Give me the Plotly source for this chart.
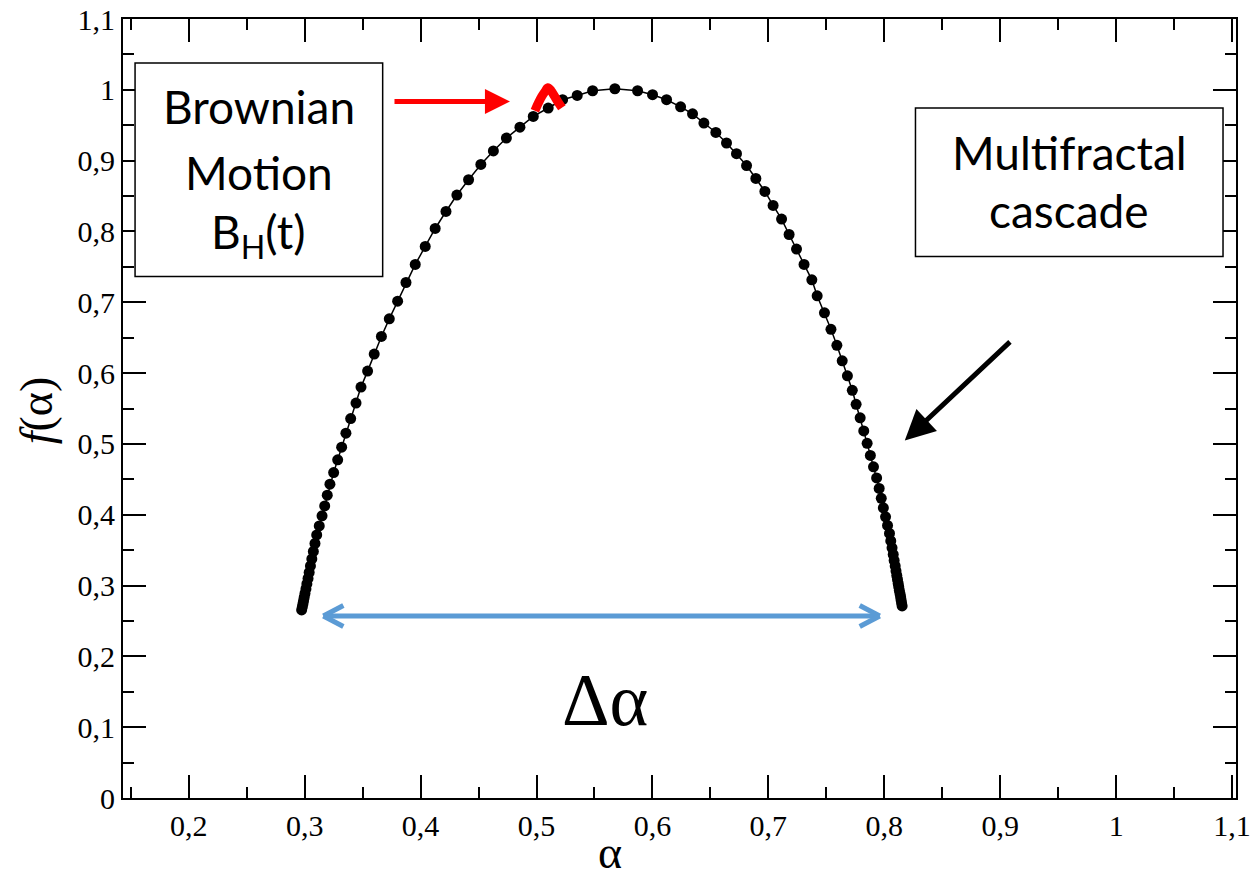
import plotly.graph_objects as go

# ---- data ----
alpha = [0.2974, 0.2980, 0.2985, 0.2990, 0.2996, 0.3003, 0.3011, 0.3019, 0.3029, 0.3039,
         0.3050, 0.3062, 0.3075, 0.3089, 0.3104, 0.3126, 0.3150, 0.3173, 0.3195, 0.3218,
         0.3250, 0.3285, 0.3319, 0.3356, 0.3397, 0.3443, 0.3486, 0.3543, 0.3600, 0.3662,
         0.3730, 0.3802, 0.3874, 0.3954, 0.4040, 0.4126, 0.4219, 0.4313, 0.4414, 0.4520,
         0.4628, 0.4740, 0.4857, 0.4972, 0.5101, 0.5225, 0.5351, 0.5484, 0.5676, 0.5872,
         0.6001, 0.6122, 0.6243, 0.6346, 0.6444, 0.6547, 0.6639, 0.6725, 0.6812, 0.6892,
         0.6970, 0.7041, 0.7114, 0.7179, 0.7243, 0.7308, 0.7375, 0.7421, 0.7484, 0.7540,
         0.7591, 0.7637, 0.7682, 0.7724, 0.7757, 0.7792, 0.7823, 0.7852, 0.7880, 0.7907,
         0.7934, 0.7956, 0.7974, 0.7992, 0.8011, 0.8028, 0.8045, 0.8056, 0.8067, 0.8077,
         0.8085, 0.8094, 0.8101, 0.8108, 0.8114, 0.8120, 0.8125, 0.8130, 0.8136, 0.8141,
         0.8145, 0.8149, 0.8154]
f_alpha = [0.2656, 0.2698, 0.2741, 0.2783, 0.2832, 0.2889, 0.2952, 0.3023, 0.3101, 0.3185,
           0.3277, 0.3376, 0.3482, 0.3595, 0.3715, 0.3842, 0.3984, 0.4125, 0.4276, 0.4431,
           0.4595, 0.4775, 0.4954, 0.5152, 0.5358, 0.5576, 0.5802, 0.6028, 0.6268, 0.6517,
           0.6766, 0.7016, 0.7279, 0.7534, 0.7788, 0.8042, 0.8282, 0.8514, 0.8730, 0.8946,
           0.9137, 0.9319, 0.9472, 0.9624, 0.9743, 0.9860, 0.9921, 0.9987, 1.0015, 0.9987,
           0.9931, 0.9860, 0.9760, 0.9661, 0.9531, 0.9398, 0.9249, 0.9098, 0.8931, 0.8748,
           0.8565, 0.8367, 0.8175, 0.7957, 0.7751, 0.7534, 0.7317, 0.7091, 0.6851, 0.6618,
           0.6392, 0.6173, 0.5961, 0.5757, 0.5559, 0.5368, 0.5184, 0.5008, 0.4838, 0.4676,
           0.4520, 0.4372, 0.4231, 0.4097, 0.3970, 0.3849, 0.3736, 0.3630, 0.3532, 0.3440,
           0.3355, 0.3277, 0.3207, 0.3143, 0.3087, 0.3030, 0.2981, 0.2931, 0.2882, 0.2839,
           0.2797, 0.2755, 0.2712]

# Brownian motion spectrum (red caret)
bm_alpha = [0.4986, 0.5015, 0.5045, 0.5075, 0.5098, 0.5125, 0.5155, 0.5185, 0.5219]
bm_f = [0.9705, 0.9810, 0.9905, 0.9980, 1.0030, 0.9990, 0.9910, 0.9830, 0.9747]

x_ticks = [0.2, 0.3, 0.4, 0.5, 0.6, 0.7, 0.8, 0.9, 1.0, 1.1]
x_ticktext = ["0,2", "0,3", "0,4", "0,5", "0,6", "0,7", "0,8", "0,9", "1", "1,1"]
x_minor = [0.15, 0.25, 0.35, 0.45, 0.55, 0.65, 0.75, 0.85, 0.95, 1.05]
y_ticks = [0, 0.1, 0.2, 0.3, 0.4, 0.5, 0.6, 0.7, 0.8, 0.9, 1.0, 1.1]
y_ticktext = ["0", "0,1", "0,2", "0,3", "0,4", "0,5", "0,6", "0,7", "0,8", "0,9", "1", "1,1"]
y_minor = [0.05, 0.15, 0.25, 0.35, 0.45, 0.55, 0.65, 0.75, 0.85, 0.95, 1.05]

SERIF = "'Liberation Serif', 'Times New Roman', Times, 'DejaVu Serif', serif"
SANS = "Lato, 'Open Sans', sans-serif"

fig = go.Figure()
fig.add_trace(go.Scatter(
    x=alpha, y=f_alpha, mode="lines+markers",
    line=dict(color="black", width=1.5),
    marker=dict(color="black", size=11),
    showlegend=False, hoverinfo="skip"))
fig.add_trace(go.Scatter(
    x=bm_alpha, y=bm_f, mode="lines",
    line=dict(color="#ff0000", width=9, shape="spline"),
    showlegend=False, hoverinfo="skip"))

axis_common = dict(
    showgrid=False, zeroline=False, showline=True, linecolor="black", linewidth=2,
    mirror="ticks", ticks="inside", ticklen=23, tickwidth=1.8, tickcolor="black",
    tickfont=dict(family=SERIF, size=30, color="black"),
    tickmode="array", automargin=False,
)
fig.update_xaxes(**axis_common, range=[0.1433, 1.1034], tickvals=x_ticks, ticktext=x_ticktext,
                 minor=dict(tickmode="array", tickvals=x_minor, ticks="inside", ticklen=11,
                            tickwidth=1.8, tickcolor="black"))
fig.update_yaxes(**axis_common, range=[0, 1.1], tickvals=y_ticks, ticktext=y_ticktext,
                 minor=dict(tickmode="array", tickvals=y_minor, ticks="inside", ticklen=11,
                            tickwidth=1.8, tickcolor="black"))

shapes = []
# text boxes
shapes.append(dict(type="rect", xref="x", yref="y", x0=0.1537, x1=0.3673, y0=0.7364, y1=1.0379,
                   line=dict(color="black", width=1.5), fillcolor="white", layer="above"))
shapes.append(dict(type="rect", xref="x", yref="y", x0=0.8269, x1=1.0922, y0=0.7647, y1=0.9743,
                   line=dict(color="black", width=1.5), fillcolor="white", layer="above"))
# blue double arrow
BLUE = "#5b9bd5"
ya = 0.2571
xl, xr = 0.3161, 0.7961
dxh, dyh = 0.0173, 0.0148
shapes.append(dict(type="line", xref="x", yref="y", x0=xl + 0.002, x1=xr - 0.002, y0=ya, y1=ya,
                   line=dict(color=BLUE, width=5)))
for x0, sgn in [(xl, 1), (xr, -1)]:
    shapes.append(dict(type="line", xref="x", yref="y", x0=x0, y0=ya, x1=x0 + sgn * dxh, y1=ya + dyh,
                       line=dict(color=BLUE, width=5)))
    shapes.append(dict(type="line", xref="x", yref="y", x0=x0, y0=ya, x1=x0 + sgn * dxh, y1=ya - dyh,
                       line=dict(color=BLUE, width=5)))
fig.update_layout(shapes=shapes)

annotations = [
    # box texts
    dict(x=0.2605, y=0.9758, text="Brownian", font=dict(family=SANS, size=46, color="black")),
    dict(x=0.2605, y=0.8839, text="Motion", font=dict(family=SANS, size=46, color="black")),
    dict(x=0.2605, y=0.7943, text="B<sub>H</sub>(t)", font=dict(family=SANS, size=46, color="black")),
    dict(x=0.9596, y=0.9121, text="Multifractal", font=dict(family=SANS, size=46, color="black")),
    dict(x=0.9596, y=0.8296, text="cascade", font=dict(family=SANS, size=46, color="black")),
    # delta alpha
    dict(x=0.5590, y=0.1384, text="Δα", font=dict(family=SERIF, size=74, color="black")),
    # axis titles
    dict(xref="paper", yref="paper", x=0.4376, y=-0.0700, text="α",
         font=dict(family=SERIF, size=46, color="black")),
    dict(xref="paper", yref="paper", x=-0.0780, y=0.498, text="<i>f</i>(α)", textangle=-90,
         font=dict(family=SERIF, size=46, color="black")),
    # arrows
    dict(x=0.4771, y=0.9836, ax=0.3762, ay=0.9836, axref="x", ayref="y", text="",
         showarrow=True, arrowhead=2, arrowsize=1, arrowwidth=5, arrowcolor="#ff0000", standoff=0),
    dict(x=0.8177, y=0.5047, ax=0.9097, ay=0.6460, axref="x", ayref="y", text="",
         showarrow=True, arrowhead=2, arrowsize=1.2, arrowwidth=5, arrowcolor="black", standoff=0),
]
for a in annotations:
    a.setdefault("xref", "x")
    a.setdefault("yref", "y")
    a.setdefault("showarrow", False)
    a.setdefault("xanchor", "center")
    a.setdefault("yanchor", "middle")
fig.update_layout(annotations=annotations)

fig.update_layout(
    width=1253, height=878,
    margin=dict(l=123, r=17, t=19, b=80, autoexpand=False),
    paper_bgcolor="white", plot_bgcolor="white",
    showlegend=False,
)
fig.write_html("out.html")
